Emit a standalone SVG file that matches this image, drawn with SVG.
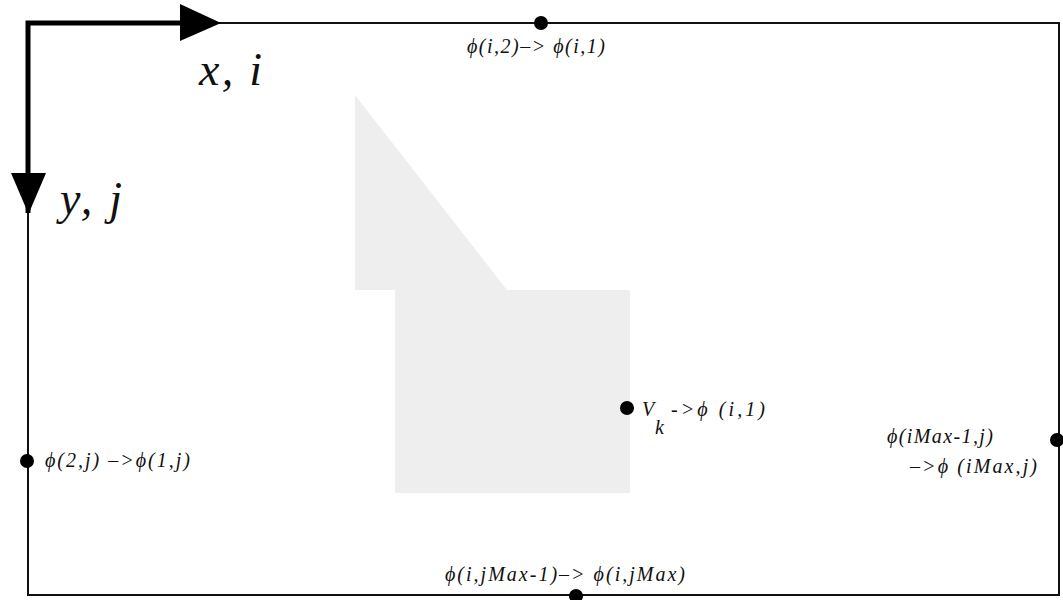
<svg xmlns="http://www.w3.org/2000/svg" width="1063" height="600" viewBox="0 0 1063 600">
<style>
.lbl{font-family:"Liberation Serif","DejaVu Serif",serif;font-style:italic;font-size:20px;fill:#111}
.ax{font-family:"Liberation Serif","DejaVu Serif",serif;font-style:italic;font-size:46px;fill:#111}
.dot{fill:#000}
</style>
<rect width="1063" height="600" fill="#fff"/>
<g id="region">
<polygon points="355,95 507,290 630,290 630,493 395,493 395,290 355,290" fill="#eeeeee"/>
</g>
<g id="connectors">
<path d="M28,23 H1059 V595 H28 Z" fill="none" stroke="#111" stroke-width="2"/>
<path d="M28,213 V23 H185" fill="none" stroke="#000" stroke-width="5"/>
<polygon points="180,4 221,23 180,41" fill="#000"/>
<polygon points="11,173 46,173 28.5,214" fill="#000"/>
</g>
<g id="axis-x"><text class="ax" x="199" y="85" textLength="63">x, i</text></g>
<g id="axis-y"><text class="ax" x="60" y="214" textLength="62">y, j</text></g>
<g id="top">
<circle class="dot" cx="541" cy="23" r="7"/>
<text class="lbl" x="467" y="53" textLength="138">ϕ(i,2)–&gt; ϕ(i,1)</text>
</g>
<g id="left">
<circle class="dot" cx="27" cy="461" r="7"/>
<text class="lbl" x="45" y="467" textLength="145">ϕ(2,j)  –&gt;ϕ(1,j)</text>
</g>
<g id="interior">
<circle class="dot" cx="627" cy="408" r="7"/>
<text class="lbl" x="642" y="416" font-size="21">V</text>
<text class="lbl" x="655" y="434">k</text>
<text class="lbl" x="671" y="416" textLength="94">-&gt;ϕ (i,1)</text>
</g>
<g id="right">
<circle class="dot" cx="1057" cy="440" r="7"/>
<text class="lbl" x="887" y="443" textLength="106">ϕ(iMax-1,j)</text>
<text class="lbl" x="910" y="473" textLength="127">–&gt;ϕ (iMax,j)</text>
</g>
<g id="bottom">
<circle class="dot" cx="576" cy="596" r="7"/>
<text class="lbl" x="445" y="581" textLength="240">ϕ(i,jMax-1)–&gt; ϕ(i,jMax)</text>
</g>
</svg>
